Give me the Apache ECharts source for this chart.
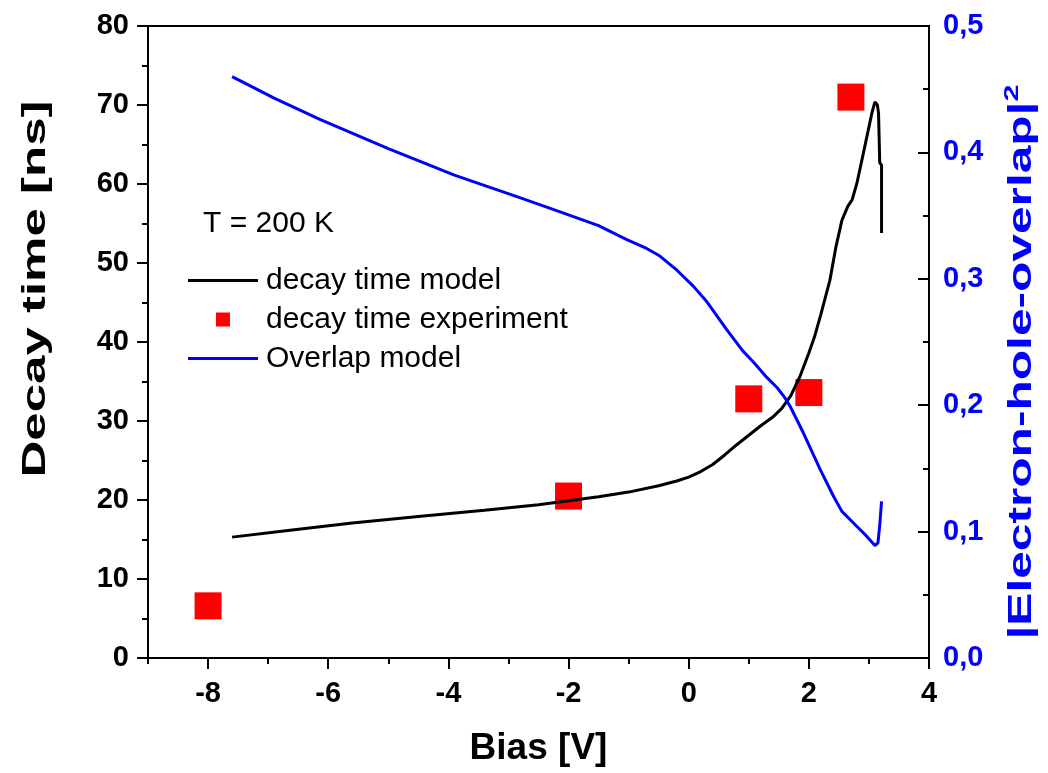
<!DOCTYPE html>
<html>
<head>
<meta charset="utf-8">
<script src="https://cdn.jsdelivr.net/npm/echarts@6/dist/echarts.min.js"></script>
<style>
  html, body { margin: 0; padding: 0; background: #fff; }
  #chart { width: 1048px; height: 773px; }
</style>
</head>
<body>
<div id="chart"></div>
<script>
// decay time model (black curve, left axis)
const biasModel = [-7.6, -6.6, -5.6, -4.5, -3.4, -2.5, -2.0, -1.5, -1.0, -0.5, -0.2, 0.0, 0.2, 0.4, 0.6, 0.8, 1.0, 1.2, 1.4, 1.55, 1.7, 1.85, 2.0, 2.1, 2.2, 2.35, 2.45, 2.55, 2.65, 2.72, 2.8, 2.93, 3.05, 3.1, 3.14, 3.16, 3.18, 3.21, 3.21];
const decayModel = [15.3, 16.2, 17.1, 17.9, 18.7, 19.4, 19.9, 20.4, 21.0, 21.8, 22.4, 22.9, 23.6, 24.5, 25.7, 27.0, 28.2, 29.4, 30.5, 31.6, 33.2, 35.6, 38.6, 40.8, 43.5, 47.8, 52.0, 55.4, 57.2, 58.0, 60.1, 64.7, 69.0, 70.4, 70.0, 69.0, 62.7, 62.4, 53.8];

// overlap model (blue curve, right axis)
const biasOverlap = [-7.6, -6.9, -6.13, -5.0, -3.9, -2.8, -2.14, -1.5, -1.03, -0.7, -0.48, -0.2, 0.08, 0.3, 0.63, 0.9, 1.08, 1.3, 1.47, 1.6, 1.69, 1.91, 2.19, 2.41, 2.55, 2.8, 2.95, 3.1, 3.15, 3.18, 3.21];
const overlapModel = [0.460, 0.443, 0.426, 0.403, 0.382, 0.364, 0.353, 0.342, 0.331, 0.324, 0.318, 0.307, 0.294, 0.282, 0.260, 0.243, 0.234, 0.222, 0.214, 0.206, 0.199, 0.178, 0.149, 0.128, 0.116, 0.104, 0.097, 0.089, 0.091, 0.105, 0.124];

// experiment (red squares)
const biasExp = [-8, -2, 1, 2, 2.7];
const decayExp = [6.6, 20.5, 32.8, 33.6, 71.0];

const xTicks = [-8, -6, -4, -2, 0, 2, 4];

const font = "Liberation Sans, Arial, sans-serif";
const chart = echarts.init(document.getElementById("chart"));

const zip = (xs, ys) => xs.map((x, i) => [x, ys[i]]);
const lineIcon = "path://M0,0H70V3H0Z";

chart.setOption({
    animation: false,
    textStyle: { fontFamily: font },
    title: {
        text: "T = 200 K",
        left: 203,
        top: 209,
        padding: 0,
        textStyle: { fontFamily: font, fontSize: 30, fontWeight: "normal", color: "#000" },
    },
    legend: {
        orient: "vertical",
        left: 188,
        top: 264,
        padding: 0,
        itemWidth: 70,
        itemHeight: 14,
        itemGap: 6,
        textStyle: { fontFamily: font, fontSize: 30, color: "#000", lineHeight: 33, padding: [0, 0, 0, 3] },
        data: [
            { name: "decay time model", icon: lineIcon },
            { name: "decay time experiment", icon: "path://M0,0H10V10H0Z" },
            { name: "Overlap model", icon: lineIcon },
        ],
    },
    // axis titles drawn stretched along their length, as in the original figure
    graphic: [
        {
            type: "text",
            x: 36,
            y: 289,
            rotation: Math.PI / 2,
            scaleX: 1.5,
            style: {
                text: "Decay time [ns]",
                font: "bold 34px Liberation Sans",
                fill: "#000",
                align: "center",
                verticalAlign: "middle",
            },
        },
        {
            type: "text",
            x: 1022,
            y: 362,
            rotation: Math.PI / 2,
            scaleX: 1.46,
            style: {
                text: "|Electron-hole-overlap|{s|2}",
                font: "bold 34px Liberation Sans",
                fill: "#0000ff",
                align: "center",
                verticalAlign: "middle",
                lineHeight: 40,
                rich: {
                    s: { font: "bold 21px Liberation Sans", fill: "#0000ff", verticalAlign: "top", lineHeight: 21 },
                },
            },
        },
    ],
    grid: {
        left: 148,
        right: 119,
        top: 26,
        bottom: 115,
        outerBoundsMode: "none",
        containLabel: false,
        show: true,
        borderColor: "#000",
        borderWidth: 2,
    },
    xAxis: [
        {
            type: "value",
            min: -9,
            max: 4,
            interval: 1,
            name: "Bias [V]",
            nameLocation: "middle",
            nameGap: 72,
            nameTextStyle: { fontFamily: font, fontSize: 37, fontWeight: "bold", color: "#000" },
            axisLine: { onZero: false, lineStyle: { color: "#000", width: 2 } },
            axisTick: { length: 6, lineStyle: { color: "#000", width: 2 } },
            axisLabel: { show: false },
            splitLine: { show: false },
        },
        {
            type: "value",
            position: "bottom",
            min: -9,
            max: 4,
            axisLine: { show: false, onZero: false },
            axisTick: { customValues: xTicks, length: 11, lineStyle: { color: "#000", width: 2 } },
            axisLabel: {
                customValues: xTicks,
                margin: 21,
                fontFamily: font,
                fontSize: 29,
                fontWeight: "bold",
                color: "#000",
            },
            splitLine: { show: false },
        },
    ],
    yAxis: [
        {
            type: "value",
            position: "left",
            min: 0,
            max: 80,
            interval: 10,
            axisLine: { show: true, onZero: false, lineStyle: { color: "#000", width: 2 } },
            axisTick: { length: 11, lineStyle: { color: "#000", width: 2 } },
            minorTick: { show: true, splitNumber: 2, length: 6, lineStyle: { color: "#000", width: 2 } },
            axisLabel: { margin: 19, fontFamily: font, fontSize: 29, fontWeight: "bold", color: "#000" },
            splitLine: { show: false },
        },
        {
            type: "value",
            position: "right",
            min: 0,
            max: 0.5,
            interval: 0.1,
            axisLine: { show: true, onZero: false, lineStyle: { color: "#000", width: 2 } },
            axisTick: { inside: true, length: 11, lineStyle: { color: "#000", width: 2 } },
            minorTick: { show: true, splitNumber: 2, length: 6, lineStyle: { color: "#000", width: 2 } },
            axisLabel: {
                margin: 14,
                fontFamily: font,
                fontSize: 29,
                fontWeight: "bold",
                color: "#0000ff",
                formatter: (v) => v.toFixed(1).replace(".", ","),
            },
            splitLine: { show: false },
        },
    ],
    series: [
        {
            name: "decay time model",
            type: "line",
            xAxisIndex: 0,
            yAxisIndex: 0,
            data: zip(biasModel, decayModel),
            showSymbol: false,
            symbol: "none",
            lineStyle: { color: "#000", width: 3 },
            itemStyle: { color: "#000" },
            z: 3,
        },
        {
            name: "decay time experiment",
            type: "scatter",
            xAxisIndex: 0,
            yAxisIndex: 0,
            data: zip(biasExp, decayExp),
            symbol: "rect",
            symbolSize: 27,
            itemStyle: { color: "#ff0000", opacity: 1 },
            z: 2,
        },
        {
            name: "Overlap model",
            type: "line",
            xAxisIndex: 0,
            yAxisIndex: 1,
            data: zip(biasOverlap, overlapModel),
            showSymbol: false,
            symbol: "none",
            lineStyle: { color: "#0000ff", width: 3 },
            itemStyle: { color: "#0000ff" },
            z: 4,
        },
    ],
});
</script>
</body>
</html>
